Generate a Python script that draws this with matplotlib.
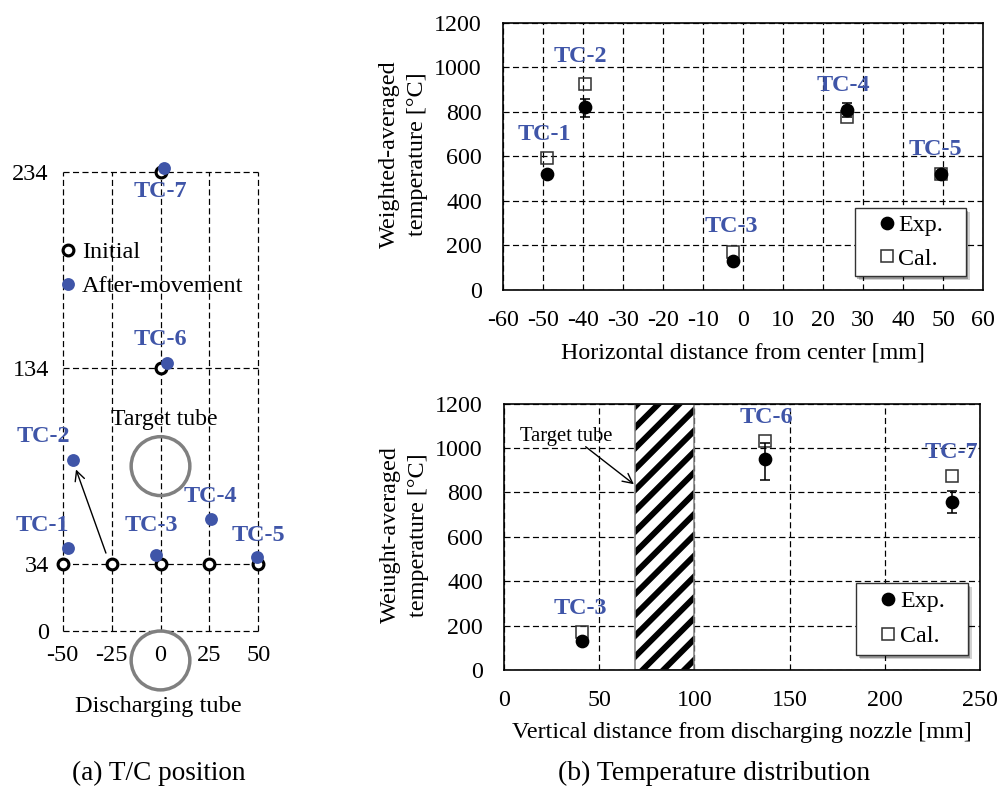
import matplotlib
matplotlib.use("Agg")
import matplotlib.pyplot as plt
from matplotlib.lines import Line2D
from matplotlib.patches import Circle, Rectangle
from matplotlib.transforms import ScaledTranslation

plt.rcParams.update({
    "font.family": ["Liberation Serif", "DejaVu Serif"],
    "axes.unicode_minus": False,
    "hatch.linewidth": 3.4,
})

# ---------- data: T/C position panel ----------
init_x = [-50, -25, 0, 25, 50, 0, 0]
init_y = [34, 34, 34, 34, 34, 134, 234]
moved_x = [-47.4, -44.9, -2.1, 25.7, 49.2, 3.2, 1.6]
moved_y = [42.3, 87.3, 38.9, 57.3, 37.8, 136.3, 235.7]
pos_labels = ["TC-1", "TC-2", "TC-3", "TC-4", "TC-5", "TC-6", "TC-7"]
pos_label_x = [-60.2, -59.9, -4.9, 25.3, 50, 0, 0]
pos_label_y = [53.7, 99, 53.7, 68.4, 48.6, 148.4, 223.8]
pos_xticks = [-50, -25, 0, 25, 50]
pos_yticks = [0, 34, 134, 234]

# ---------- data: horizontal distribution ----------
h_x = [-48.9, -39.5, -2.6, 25.9, 49.4]
h_exp = [522, 820, 131, 808, 522]
h_err_low = [0, 43, 0, 30, 0]
h_err_high = [0, 37, 0, 30, 0]
h_cal = [594, 926, 169, 775, 522]
h_labels = ["TC-1", "TC-2", "TC-3", "TC-4", "TC-5"]
h_label_x = [-49.5, -40.5, -2.8, 25, 48.1]
h_label_y = [696, 1047, 283, 916, 631]
h_xticks = list(range(-60, 61, 10))
temp_ticks = [0, 200, 400, 600, 800, 1000, 1200]

# ---------- data: vertical distribution ----------
v_x = [40.9, 137, 235]
v_exp = [129, 952, 757]
v_err_low = [0, 96, 49]
v_err_high = [0, 69, 49]
v_cal = [170, 1030, 875]
v_labels = ["TC-3", "TC-6", "TC-7"]
v_label_x = [40.4, 137.8, 235]
v_label_y = [276, 1137, 979]
v_xticks = [0, 50, 100, 150, 200, 250]
target_span = [69, 100]

BLUE = "#3F55A8"
GRAY = "#808080"
DASH = (0, (5, 2.8))
W, H = 1000, 787


def px_axes(fig, x0, x1, ytop, ybot):
    return fig.add_axes([x0 / W, 1 - ybot / H, (x1 - x0) / W, (ybot - ytop) / H])


fig = plt.figure(figsize=(8, 6.296), dpi=125)

# ---------- left panel ----------
ax = px_axes(fig, 62.7, 258.3, 171.7, 631)
ax.set_xlim(-50, 50)
ax.set_ylim(0, 234)
for s in ax.spines.values():
    s.set_visible(False)
ax.set_xticks(pos_xticks)
ax.set_yticks(pos_yticks)
ax.tick_params(length=0, labelsize=14, pad=8)
for v in pos_xticks:
    ax.plot([v, v], [0, 234], color="black", lw=0.7, ls=DASH, clip_on=False, zorder=1)
for v in pos_yticks:
    ax.plot([-50, 50], [v, v], color="black", lw=0.7, ls=DASH, clip_on=False, zorder=1)
ax.add_patch(Circle((0, 84), 15, fc="none", ec=GRAY, lw=2.0, clip_on=False, zorder=2))
ax.add_patch(Circle((0, -15), 15, fc="none", ec=GRAY, lw=2.0, clip_on=False, zorder=2))
ax.plot(init_x, init_y, ls="none", marker="o", ms=6.2, mfc="white", mec="black", mew=1.8,
        clip_on=False, zorder=3)
ax.plot(moved_x, moved_y, ls="none", marker="o", ms=7.4, mfc=BLUE, mec="none",
        clip_on=False, zorder=4)
for t, x, y in zip(pos_labels, pos_label_x, pos_label_y):
    ax.text(x, y, t, color=BLUE, fontweight="bold", fontsize=13.9, ha="center", va="center", zorder=5)
ax.annotate("", xy=(-43.2, 82.3), xytext=(-27.9, 39.7),
            arrowprops=dict(arrowstyle="->", color="black", lw=0.8, mutation_scale=14,
                            shrinkA=0, shrinkB=0), zorder=3)
ax.text(1.8, 108, "Target tube", fontsize=13.7, ha="center", va="center", zorder=5)
ax.text(-1.2, -38.6, "Discharging tube", fontsize=14, ha="center", va="center", clip_on=False)
handles = [
    Line2D([], [], ls="none", marker="o", ms=6.2, mfc="white", mec="black", mew=1.8, label="Initial"),
    Line2D([], [], ls="none", marker="o", ms=7.4, mfc=BLUE, mec="none", label="After-movement"),
]
ax.legend(handles=handles, loc="upper left", bbox_to_anchor=(-0.037, 0.849), frameon=False,
          fontsize=14, borderpad=0, borderaxespad=0, handletextpad=0.1,
          handlelength=1.0, labelspacing=0.5)


def scatter_panel(ax, x, exp, low, high, cal, labels, lx, ly):
    ax.set_ylim(0, 1200)
    ax.set_yticks(temp_ticks)
    ax.grid(True, color="black", lw=0.7, ls=DASH)
    ax.set_axisbelow(True)
    ax.tick_params(length=0, labelsize=13.8)
    ax.tick_params(axis="y", pad=12)
    ax.tick_params(axis="x", pad=11.5)
    for s in ax.spines.values():
        s.set_linewidth(0.95)
    ax.plot(x, cal, ls="none", marker="s", ms=7.2, mfc="none", mec="#333333", mew=0.9, zorder=3)
    ax.errorbar(x, exp, yerr=[low, high], ls="none", marker="o", ms=6.9, color="black",
                ecolor="black", elinewidth=0.9, capsize=3.0, capthick=0.9, zorder=4)
    for t, a, b in zip(labels, lx, ly):
        ax.text(a, b, t, color=BLUE, fontweight="bold", fontsize=13.9, ha="center", va="center", zorder=5)


def panel_legend(ax, frame, anchor, spacing):
    # frame = (x, y, w, h) in axes fractions, drawn apart from the legend so that
    # its side padding can differ from its top and bottom padding
    for off, alpha in ((2.4, 0.18), (1.5, 0.28)):
        shift = ScaledTranslation(off / 72, -off / 72, fig.dpi_scale_trans)
        ax.add_patch(Rectangle(frame[:2], frame[2], frame[3], transform=ax.transAxes + shift,
                               fc="black", ec="none", alpha=alpha, zorder=5.9))
    ax.add_patch(Rectangle(frame[:2], frame[2], frame[3], transform=ax.transAxes, fc="white",
                           ec="#333333", lw=0.8, zorder=6))
    leg = ax.legend([Line2D([], [], ls="none", marker="o", ms=6.9, color="black"),
                     Line2D([], [], ls="none", marker="s", ms=7.2, mfc="none", mec="#333333", mew=0.9)],
                    ["Exp.", "Cal."], loc="center left", bbox_to_anchor=anchor,
                    fontsize=13.8, frameon=False, borderaxespad=0, borderpad=0,
                    handlelength=1.0, handletextpad=0.0, labelspacing=spacing)
    leg.set_zorder(7)


# ---------- top right panel ----------
ax1 = px_axes(fig, 502.7, 983.3, 22.7, 290)
ax1.set_xlim(-60, 60)
ax1.set_xticks(h_xticks)
scatter_panel(ax1, h_x, h_exp, h_err_low, h_err_high, h_cal, h_labels, h_label_x, h_label_y)
panel_legend(ax1, (0.7327, 0.0524, 0.2309, 0.2536), (0.7737, 0.1792), 0.49)
ax1.set_xlabel("Horizontal distance from center [mm]", fontsize=13.8, labelpad=6.5)
ax1.set_ylabel("Weighted-averaged\ntemperature [°C]", fontsize=13.9, labelpad=3.5, linespacing=1.46, y=0.507)

# ---------- bottom right panel ----------
ax2 = px_axes(fig, 503.7, 980.3, 403.7, 670)
ax2.set_xlim(0, 250)
ax2.set_xticks(v_xticks)
ax2.axvspan(target_span[0], target_span[1], fc="white", ec="black", hatch="//", lw=0, zorder=2)
ax2.add_patch(Rectangle((target_span[0], 0), target_span[1] - target_span[0], 1200,
                        fc="none", ec=GRAY, lw=0.9, zorder=2.5))
scatter_panel(ax2, v_x, v_exp, v_err_low, v_err_high, v_cal, v_labels, v_label_x, v_label_y)
panel_legend(ax2, (0.7392, 0.0563, 0.2344, 0.2704), (0.7812, 0.1915), 0.56)
ax2.text(32.8, 1051, "Target tube", fontsize=11.9, ha="center", va="center", zorder=5)
ax2.annotate("", xy=(68.3, 837), xytext=(43, 1006),
             arrowprops=dict(arrowstyle="->", color="black", lw=0.8, mutation_scale=14,
                             shrinkA=0, shrinkB=0), zorder=5)
ax2.set_xlabel("Vertical distance from discharging nozzle [mm]", fontsize=13.9, labelpad=6.5)
ax2.set_ylabel("Weiught-averaged\ntemperature [°C]", fontsize=13.9, labelpad=3.5, linespacing=1.46, y=0.507)

fig.text(159 / W, 1 - 773 / H, "(a) T/C position", fontsize=15.7, ha="center", va="center")
fig.text(714 / W, 1 - 773 / H, "(b) Temperature distribution", fontsize=15.9, ha="center", va="center")

fig.savefig("out.png", dpi=125)
